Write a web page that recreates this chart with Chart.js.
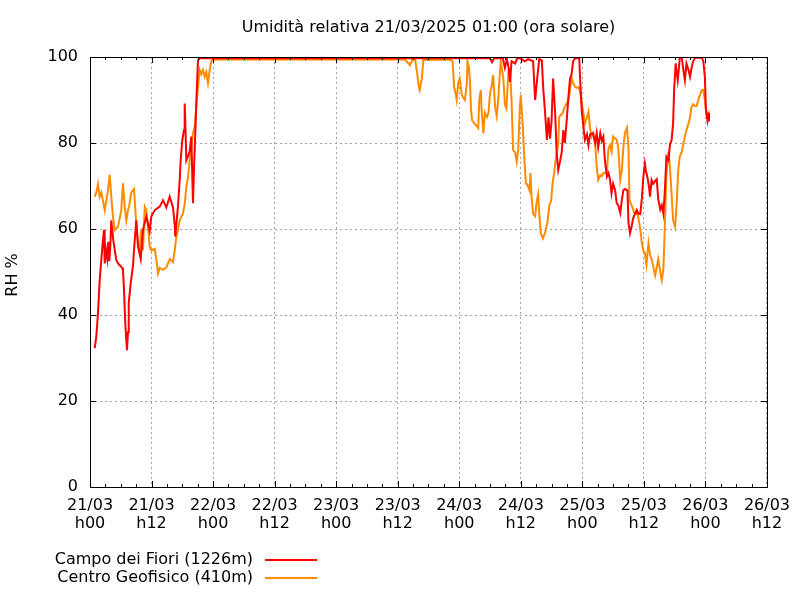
<!DOCTYPE html>
<html>
<head>
<meta charset="utf-8">
<script src="https://cdn.jsdelivr.net/npm/chart.js@4/dist/chart.umd.min.js"></script>
<style>
  html, body { margin: 0; padding: 0; background: #fff; }
  #wrap { width: 800px; height: 600px; }
</style>
</head>
<body>
<div id="wrap"><canvas id="rhChart" width="800" height="600"></canvas></div>
<script>
// ore dall'inizio (21/03 h00) e umidità relativa %
const TITLE = "Umidità relativa 21/03/2025 01:00 (ora solare)";
const Y_TITLE = "RH %";
const DAYS = ["21/03", "22/03", "23/03", "24/03", "25/03", "26/03"];

const campoHours = [
  0.92, 1.23, 1.56, 1.89, 2.2, 2.53, 2.73, 2.87, 3.12, 3.37, 3.57, 3.76, 3.96, 4.15, 4.54,
  5.13, 5.46, 5.85, 6.24, 6.43, 6.63, 6.88, 7.21, 7.41, 7.55, 7.94, 8.38, 8.72, 9.03, 9.36,
  9.89, 10.33, 10.98, 11.64, 11.95, 12.62, 13.59, 14.23, 14.88, 15.54, 16.18, 16.52, 16.63,
  17.16, 17.49, 17.68, 18.0, 18.33, 18.46, 18.58, 18.78, 19.11, 19.44, 19.75, 20.08, 20.28,
  20.53, 20.8, 21.06, 21.45, 71.2, 78.0, 78.4, 78.8, 80.5, 80.9, 81.3, 81.7, 81.9, 82.2,
  82.9, 83.3, 83.9, 84.8, 85.4, 86.4, 86.8, 87.2, 87.6, 88.1, 88.4, 88.7, 89.1, 89.4, 89.7,
  90.0, 90.3, 90.7, 91.0, 91.3, 91.7, 92.0, 92.3, 92.6, 93.0, 93.3, 93.6, 93.9, 94.2, 94.6,
  95.4, 95.6, 95.9, 96.2, 96.5, 96.9, 97.2, 97.5, 98.1, 98.5, 98.8, 99.1, 99.5, 99.8, 100.1,
  100.4, 100.8, 101.1, 101.4, 101.7, 102.0, 102.4, 102.7, 103.0, 103.4, 103.7, 104.0, 104.3,
  104.8, 105.0, 105.3, 105.6, 105.9, 106.6, 106.9, 107.3, 107.6, 107.9, 108.2, 108.4, 108.7,
  109.0, 109.2, 109.5, 109.8, 110.2, 110.5, 110.8, 111.2, 111.5, 111.8, 112.1, 112.4, 112.8,
  113.1, 113.4, 113.7, 113.9, 114.2, 114.4, 114.6, 114.8, 115.0, 115.4, 115.7, 116.0, 116.3,
  116.7, 117.0, 117.3, 117.6, 118.0, 119.3, 119.6, 119.9, 120.1, 120.4, 120.6, 120.7
];
const campoRH = [
  32.3, 35, 40.5, 48, 52.8, 57.4, 59.8, 52, 55, 53, 57, 52.5, 56, 62, 57.4,
  52.8, 52, 51.5, 51, 50.5, 46, 38, 31.8, 36, 42.8, 47.4, 51.5, 57.4, 62, 56,
  53, 59.8, 62.9, 59.5, 62.9, 64.4, 65.2, 66.7, 65, 67.5, 65, 61, 58.2,
  65.4, 71.4, 76, 80.7, 83, 89.2, 85, 76, 77, 78, 81.5, 66, 74,
  82.3, 91.6, 99.2, 99.7, 99.7, 99.7, 98.8, 99.7, 99.7, 97.5, 99.5, 97, 94.2, 99,
  98.5, 99.7, 99.7, 99, 99.5, 99, 90, 95, 99.5, 99.2, 92.3, 87.7, 80.7, 86, 81,
  85, 95, 87, 77.5, 73.7, 76, 78, 83, 80, 86, 90.8, 95, 96, 99, 99.7,
  99.7, 94.2, 87.3, 84, 80.7, 82, 79.5, 82, 82.3, 80, 82.3, 79, 82.3, 80.5, 81.5,
  76, 72.2, 73, 71.5, 68.3, 70.5, 69, 66, 65.5, 63.7, 66.7, 69, 69.3,
  69, 61.4, 59, 60.5, 62.5, 64.4, 63.6, 63.5, 67, 72.2, 75.2, 73.5, 72,
  69.8, 67.5, 71.4, 70.5, 71.2, 71.6, 67, 64.5, 65.5, 63.6, 69, 76.8, 76,
  79.8, 80.6, 84.5, 92.3, 98.5, 96.5, 94.6, 97, 99.8, 99.8, 97, 94.6, 98.5,
  97, 95.4, 97.5, 99, 99.8, 99.8, 99, 95.3, 87.7, 85.3, 87, 85
];

const geoHours = [
  0.92, 1.23, 1.56, 1.89, 2.2, 2.53, 2.87, 3.18, 3.51, 3.84, 4.15, 4.48, 4.82, 5.46, 6.1,
  6.43, 6.77, 7.08, 7.41, 7.74, 8.05, 8.58, 9.03, 9.36, 9.69, 10.0, 10.33, 10.67, 10.98,
  11.31, 11.64, 11.95, 12.62, 12.93, 13.26, 13.59, 14.23, 14.88, 15.54, 16.18, 16.52, 16.83,
  17.16, 17.49, 18.13, 18.46, 18.78, 19.11, 19.44, 19.75, 20.08, 20.41, 20.72, 21.06, 21.39,
  21.7, 22.03, 22.36, 22.68, 23.0, 23.34, 23.65, 23.98, 61.4, 61.8, 62.4, 62.8, 63.4, 63.8,
  64.1, 64.3, 64.7, 65.0, 70.2, 70.7, 71.0, 71.3, 71.5, 71.8, 72.1, 72.5, 72.8, 73.1, 73.5,
  73.6, 73.9, 74.1, 74.3, 74.5, 75.1, 75.4, 75.7, 75.9, 76.2, 76.4, 76.7, 77.0, 77.4, 77.7,
  78.0, 78.3, 78.6, 79.0, 79.3, 79.6, 79.9, 80.1, 80.6, 80.9, 81.2, 81.6, 81.9, 82.2, 82.5,
  82.9, 83.2, 83.5, 83.8, 84.0, 84.4, 84.6, 84.8, 85.0, 85.3, 85.7, 85.9, 86.1, 86.4, 86.8,
  87.1, 87.4, 87.6, 87.9, 88.3, 88.7, 89.2, 89.6, 89.9, 90.2, 90.5, 90.8, 91.0, 91.3, 91.5,
  91.8, 92.2, 92.4, 93.0, 93.3, 93.6, 93.9, 94.2, 94.6, 94.9, 95.2, 95.5, 95.9, 96.2, 96.5,
  96.9, 97.2, 97.5, 97.8, 98.1, 98.5, 98.8, 99.1, 99.5, 99.8, 100.1, 100.4, 100.8, 101.1,
  101.4, 101.7, 102.0, 102.4, 102.7, 103.0, 103.4, 103.7, 104.0, 104.3, 104.7, 105.0, 105.2,
  105.4, 105.8, 106.1, 106.5, 106.7, 107.1, 107.4, 107.6, 107.9, 108.2, 108.5, 108.9, 109.2,
  109.5, 109.8, 110.2, 110.5, 110.8, 111.2, 111.5, 111.8, 112.0, 112.3, 112.4, 112.8, 113.1,
  113.4, 113.7, 114.1, 114.4, 114.7, 115.0, 115.4, 115.7, 116.0, 116.3, 116.7, 117.0, 117.3,
  117.6, 118.0, 118.3, 118.6, 118.9, 119.3, 119.6, 119.9, 120.1, 120.4, 120.6, 120.7
];
const geoRH = [
  67.5, 68.5, 70.5, 67.5, 68.5, 66.6, 64.4, 66.6, 69, 72.6, 67.5, 62.9, 59.8, 60.5, 64.4,
  70.6, 65.2, 62, 64.4, 66, 68.5, 69.3, 61, 56.6, 55, 59.8, 55, 65.2, 64.4,
  60.5, 56, 55, 55.4, 53, 49.7, 51, 50.5, 51, 53, 52.3, 55, 58.2,
  59.8, 62, 63.6, 65.8, 69.7, 72, 76, 79, 82.3, 83.8, 88.4, 93, 97,
  96, 97, 95.4, 96.5, 93.9, 97, 99, 99.4, 99.4, 98.9, 98.1, 99.3, 99.4, 96.2,
  93.1, 92.3, 95, 99.3, 99.4, 99, 93, 91.5, 90, 94, 95, 91.2, 90.5, 90, 94,
  99, 97.5, 94, 87.7, 85.3, 84.3, 84, 83.5, 90, 92.3, 87, 82.3, 87, 86, 87,
  91.5, 93, 95.8, 88.4, 86.3, 90, 96, 99, 95, 89, 88, 97, 97, 90, 78.4,
  77.8, 75.7, 78.4, 88, 91.2, 83.8, 78.4, 74.5, 70.6, 70.3, 69, 73, 67.5, 63.6, 63,
  66.4, 68, 63.6, 59, 57.8, 59, 61.5, 65.8, 66.4, 70.6, 73, 76, 77.5, 79.8, 86.1,
  86.5, 87, 88, 89.3, 90, 92.3, 95.3, 94, 93, 92.8, 93, 92.3, 89.3, 87, 84.5,
  86, 87.3, 83.5, 81.5, 82.3, 80, 74.5, 71.4, 72.5, 72.3, 73, 73, 73.5, 78.8,
  79.5, 78, 81.5, 81, 80.8, 79, 71.4, 73.5, 79, 82.3, 83.5, 78.8, 66.7,
  66, 65, 63.7, 63.5, 64, 61.5, 59, 56.7, 55, 54.5, 51.7, 56.7, 54,
  53, 51.5, 49.2, 51, 53, 50, 48.1, 50.5, 57.4, 69, 72.8, 78, 74,
  68.3, 62, 60.5, 66, 73.7, 76.8, 78, 79.8, 81.5, 83, 84.5, 86, 88.4,
  89, 88.6, 88.6, 90, 91, 92.3, 92.3, 90.1, 87.7, 86.6, 87, 85.3
];

const SERIES_LABELS = ["Campo dei Fiori (1226m)", "Centro Geofisico (410m)"];
const SERIES_COLORS = ["#ff0000", "#ff8c00"];

const X_MAX = 132;
const FONT = "'DejaVu Sans', sans-serif";

function toPoints(xs, ys) {
  return xs.map((x, i) => ({ x: x, y: ys[i] }));
}

function tickLabel(h) {
  const day = DAYS[Math.floor(h / 24)];
  const hh = h % 24;
  return [day, "h" + String(hh).padStart(2, "0")];
}

// cornice, tacche interne, titoli e legenda stile gnuplot
const gnuplotFrame = {
  id: "gnuplotFrame",
  afterDraw(chart) {
    const ctx = chart.ctx;
    const a = chart.chartArea;
    const xs = chart.scales.x;
    const ys = chart.scales.y;
    ctx.save();
    ctx.strokeStyle = "#000";
    ctx.lineWidth = 1;
    ctx.strokeRect(Math.round(a.left) + 0.5, Math.round(a.top) + 0.5,
      Math.round(a.right - a.left), Math.round(a.bottom - a.top));

    ctx.beginPath();
    for (let h = 0; h <= X_MAX; h += 3) {
      const px = Math.round(xs.getPixelForValue(h)) + 0.5;
      const len = h % 12 === 0 ? 6 : 3;
      ctx.moveTo(px, a.bottom);
      ctx.lineTo(px, a.bottom - len);
      ctx.moveTo(px, a.top);
      ctx.lineTo(px, a.top + len);
    }
    for (let v = 0; v <= 100; v += 20) {
      const py = Math.round(ys.getPixelForValue(v)) + 0.5;
      ctx.moveTo(a.left, py);
      ctx.lineTo(a.left + 6, py);
      ctx.moveTo(a.right, py);
      ctx.lineTo(a.right - 6, py);
    }
    ctx.stroke();

    ctx.fillStyle = "#000";
    ctx.font = "16px " + FONT;
    ctx.textAlign = "center";
    ctx.textBaseline = "middle";
    ctx.fillText(TITLE, (a.left + a.right) / 2, 28);

    ctx.save();
    ctx.translate(13, 275);
    ctx.rotate(-Math.PI / 2);
    ctx.fillText(Y_TITLE, 0, 0);
    ctx.restore();

    ctx.textAlign = "right";
    SERIES_LABELS.forEach((lbl, i) => {
      const y = 560 + i * 18;
      ctx.fillText(lbl, 253, y);
      ctx.strokeStyle = SERIES_COLORS[i];
      ctx.lineWidth = 2;
      ctx.beginPath();
      ctx.moveTo(265, y);
      ctx.lineTo(317, y);
      ctx.stroke();
    });
    ctx.restore();
  }
};

new Chart(document.getElementById("rhChart"), {
  type: "line",
  data: {
    datasets: [
      {
        label: SERIES_LABELS[0],
        data: toPoints(campoHours, campoRH),
        borderColor: SERIES_COLORS[0],
        borderWidth: 2,
        pointRadius: 0,
        tension: 0,
        fill: false
      },
      {
        label: SERIES_LABELS[1],
        data: toPoints(geoHours, geoRH),
        borderColor: SERIES_COLORS[1],
        borderWidth: 2,
        pointRadius: 0,
        tension: 0,
        fill: false
      }
    ]
  },
  options: {
    responsive: false,
    animation: false,
    layout: { padding: { top: 57, right: 33, left: 0, bottom: 0 } },
    plugins: {
      legend: { display: false },
      title: { display: false },
      tooltip: { enabled: false }
    },
    scales: {
      x: {
        type: "linear",
        min: 0,
        max: X_MAX,
        afterFit(scale) { scale.height = 113; },
        afterBuildTicks(scale) {
          scale.ticks = [];
          for (let h = 0; h <= X_MAX; h += 12) scale.ticks.push({ value: h });
        },
        ticks: {
          autoSkip: false,
          maxRotation: 0,
          padding: 10,
          color: "#000",
          font: { family: FONT, size: 16, lineHeight: "18px" },
          callback: (v) => tickLabel(v)
        },
        grid: { color: "#a0a0a0", lineWidth: 1, drawTicks: false },
        border: { display: false, dash: [2, 3] }
      },
      y: {
        min: 0,
        max: 100,
        afterFit(scale) { scale.width = 90; },
        ticks: {
          stepSize: 20,
          padding: 12,
          color: "#000",
          font: { family: FONT, size: 16 }
        },
        grid: { color: "#a0a0a0", lineWidth: 1, drawTicks: false },
        border: { display: false, dash: [2, 3] }
      }
    }
  },
  plugins: [gnuplotFrame]
});
</script>
</body>
</html>
